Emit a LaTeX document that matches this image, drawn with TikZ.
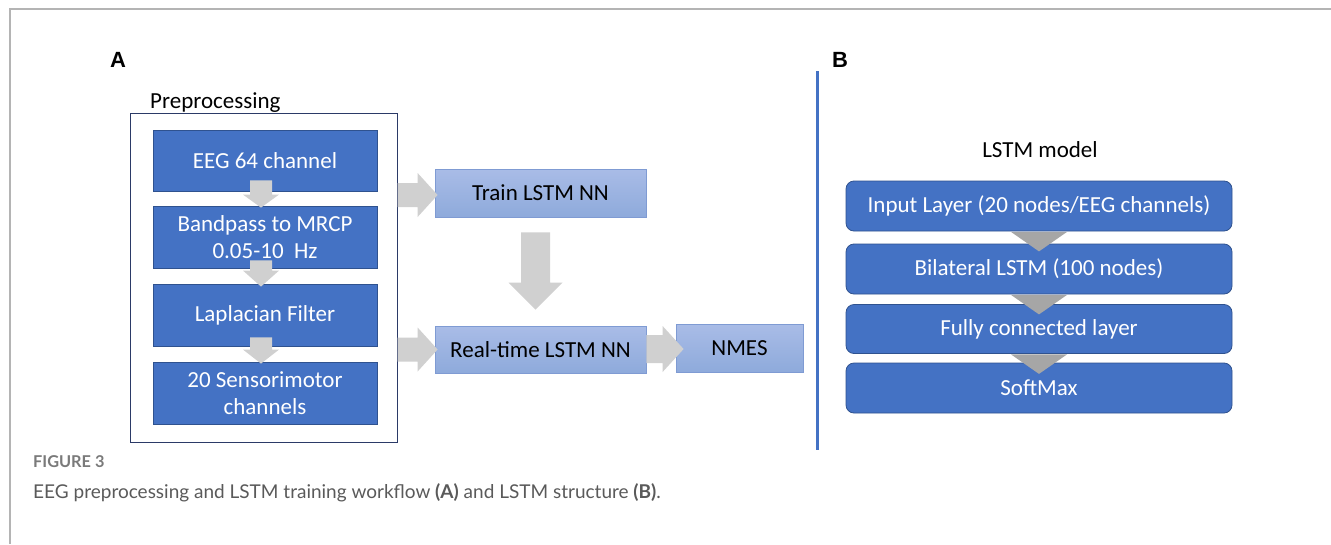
\documentclass[tikz,border=0pt]{standalone}
\usepackage{fontspec}
\setmainfont{Carlito}
\newfontfamily\capfont{Lato}
\newfontfamily\labfont{Liberation Sans}
\usetikzlibrary{calc}
\definecolor{boxblue}{HTML}{4472C4}
\definecolor{boxedge}{HTML}{2F528F}
\definecolor{lightA}{HTML}{A9BCE7}
\definecolor{lightB}{HTML}{8EAADB}
\definecolor{lightedge}{HTML}{7F9BD3}
\definecolor{agray}{HTML}{D0D0D0}
\definecolor{cgray}{HTML}{A6A6A6}
\definecolor{framegray}{HTML}{B4B4B4}
\definecolor{prebord}{HTML}{2B3A67}
\definecolor{capgray}{HTML}{5A5A5A}
\definecolor{figgray}{HTML}{7A7A7A}
% horizontal block arrow: #1 start (x), #2 tip, #3 half shaft, #4 half head, #5 head length
\newcommand\blkR[5]{\fill[garrow] let \p1=(#1), \p2=(#2) in (\x1,\y2+#3) -- (\x2-#5,\y2+#3) -- (\x2-#5,\y2+#4) -- (\x2,\y2) -- (\x2-#5,\y2-#4) -- (\x2-#5,\y2-#3) -- (\x1,\y2-#3) -- cycle;}
% vertical block arrow: #1 start (y), #2 tip
\newcommand\blkD[5]{\fill[garrow] let \p1=(#1), \p2=(#2) in (\x2-#3,\y1) -- (\x2-#3,\y2+#5) -- (\x2-#4,\y2+#5) -- (\x2,\y2) -- (\x2+#4,\y2+#5) -- (\x2+#3,\y2+#5) -- (\x2+#3,\y1) -- cycle;}
\begin{document}
\begin{tikzpicture}[x=1pt,y=-1pt,
  boxfont/.style={font=\fontsize{23}{27}\selectfont},
  darkbox/.style={boxfont, draw=boxedge, line width=0.8pt, fill=boxblue, text=white, align=center, inner sep=0pt},
  lightbox/.style={boxfont, draw=lightedge, line width=0.8pt, top color=lightA, bottom color=lightB, text=black, align=center, inner sep=0pt},
  roundbox/.style={darkbox, rounded corners=8pt, minimum width=386pt},
  leftbox/.style={darkbox, minimum width=224pt},
  garrow/.style={fill=agray},
  chev/.style={fill=cgray},
  title/.style={boxfont, text=black},
  panel/.style={font=\labfont\bfseries\fontsize{22}{22}\selectfont}]
\useasboundingbox (0,0) rectangle (1331,544);
\fill[white] (0,0) rectangle (1331,544);
% frame
\draw[framegray, line width=1.5pt] (10,544) -- (10,9) -- (1331,9);

% panel labels
\node[panel] (labA) at (118,60) {A};
\node[panel] (labB) at (840,60) {B};

% preprocessing group
\node[draw=prebord, line width=1pt, minimum width=267pt, minimum height=329pt, inner sep=0pt] (pre) at (263.5,277.5) {};
\node[title, anchor=base west, inner sep=0pt] (pretitle) at (150,108) {Preprocessing};
\node[leftbox, minimum height=61pt] (eeg) at (265,160.5) {EEG 64 channel};
\node[leftbox, minimum height=62pt] (band) at (265,237) {Bandpass to MRCP\\0.05-10\ \ Hz};
\node[leftbox, minimum height=62pt] (lap) at (265,315) {Laplacian Filter};
\node[leftbox, minimum height=62pt] (sens) at (265,393) {20 Sensorimotor\\channels};

\blkD{$(eeg.south)+(0,-11)$}{$(band.north)+(-4,2)$}{11pt}{18pt}{13pt}
\blkD{$(band.south)+(0,-8)$}{$(lap.north)+(-4,3)$}{11pt}{18pt}{16pt}
\blkD{$(lap.south)+(0,-9)$}{$(sens.north)+(-4,2)$}{11pt}{18pt}{14pt}

% training / real-time
\node[lightbox, minimum width=211pt, minimum height=48pt] (train) at (540.5,193) {Train LSTM NN};
\node[lightbox, minimum width=211pt, minimum height=47pt] (real) at (540.5,349.5) {Real-time LSTM NN};
\node[lightbox, minimum width=127pt, minimum height=48pt] (nmes) at (739.5,348) {NMES};

\blkR{pre.east}{$(train.west)+(3,2)$}{12pt}{22pt}{20pt}
\blkR{pre.east}{$(real.west)+(3,0)$}{12pt}{22pt}{20pt}
\blkR{real.east}{$(nmes.west)+(8,1)$}{14pt}{23pt}{21pt}
\blkD{$(train.south)+(0,15)$}{$(real.north)+(-5,-16)$}{14.5pt}{27pt}{27pt}

% divider
\coordinate (divtop) at (817,71);
\coordinate (divbot) at (817,450);
\draw[boxblue, line width=3pt] (divtop) -- (divbot);

% LSTM model
\node[title] (lstmtitle) at (1040,150) {LSTM model};
\node[roundbox, minimum height=50pt] (inp) at (1039,206) {Input Layer (20 nodes/EEG channels)};
\node[roundbox, minimum height=50pt] (bil) at (1039,269) {Bilateral LSTM (100 nodes)};
\node[roundbox, minimum height=49pt] (full) at (1039,329) {Fully connected layer};
\node[roundbox, minimum height=50pt] (soft) at (1039,388) {SoftMax};

\fill[chev] ($(inp.south)+(-28,0.5)$) -- ($(inp.south)+(28,0.5)$) -- ($(inp.south)+(0,20)$) -- cycle;
\fill[chev] ($(bil.south)+(-28,0.5)$) -- ($(bil.south)+(28,0.5)$) -- ($(bil.south)+(0,20)$) -- cycle;
\fill[chev] ($(full.south)+(-28,0.5)$) -- ($(full.south)+(28,0.5)$) -- ($(full.south)+(0,20)$) -- cycle;

% caption
\node[anchor=base west, font=\capfont\bfseries\fontsize{16.3}{16.3}\selectfont, text=figgray, inner sep=0pt] (fig) at (33,467) {FIGURE 3};
\node[anchor=base west, font=\capfont\fontsize{19}{19}\selectfont, text=capgray, inner sep=0pt] (cap) at (33,498) {EEG preprocessing and LSTM training workflow \textbf{(A)} and LSTM structure \textbf{(B)}.};
\end{tikzpicture}
\end{document}
